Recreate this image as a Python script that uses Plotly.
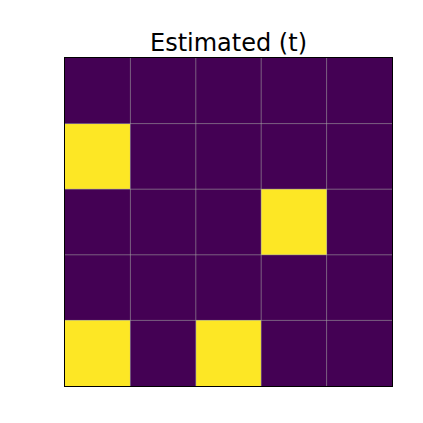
import plotly.graph_objects as go

# 5x5 binary matrix, row 0 = top row
rows = [0, 1, 2, 3, 4]
cols = [0, 1, 2, 3, 4]
values = [
    [0, 0, 0, 0, 0],
    [1, 0, 0, 0, 0],
    [0, 0, 0, 1, 0],
    [0, 0, 0, 0, 0],
    [1, 0, 1, 0, 0],
]
title = "Estimated (t)"

fig = go.Figure(go.Heatmap(
    z=values, x=cols, y=rows,
    colorscale="Viridis", zmin=0, zmax=1,
    showscale=False,
))

# grid lines between the cells
shapes = []
for k in range(1, len(cols)):
    shapes.append(dict(type="line", xref="x", yref="paper", x0=k - 0.5, x1=k - 0.5, y0=0, y1=1,
                       line=dict(color="rgba(160,160,160,0.6)", width=1), layer="above"))
for k in range(1, len(rows)):
    shapes.append(dict(type="line", xref="paper", yref="y", x0=0, x1=1, y0=k - 0.5, y1=k - 0.5,
                       line=dict(color="rgba(160,160,160,0.6)", width=1), layer="above"))

fig.update_layout(
    width=423, height=423,
    margin=dict(l=57, r=39, t=50, b=45),
    paper_bgcolor="white", plot_bgcolor="white",
    title=dict(text=title, xref="paper", x=0.5, xanchor="center", y=1 - 35 / 423, yanchor="middle",
               font=dict(family="DejaVu Sans", size=24, color="black")),
    shapes=shapes,
    xaxis=dict(range=[-0.5, 4.5], showticklabels=False, ticks="", showgrid=False, zeroline=False,
               showline=True, linecolor="black", linewidth=1, mirror=True, constrain="domain"),
    yaxis=dict(range=[4.5, -0.5], showticklabels=False, ticks="", showgrid=False, zeroline=False,
               showline=True, linecolor="black", linewidth=1, mirror=True),
)

fig.write_html("out.html")
